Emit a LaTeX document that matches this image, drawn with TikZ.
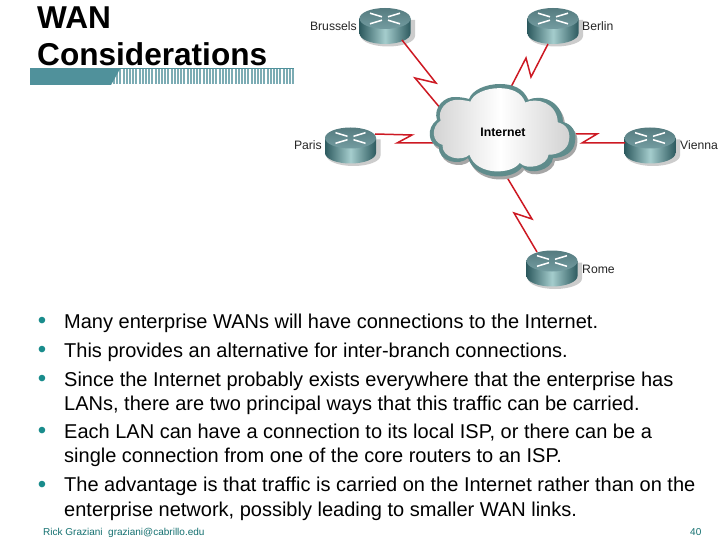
\documentclass[tikz,border=0pt]{standalone}
\usepackage{fontspec}
\setmainfont{Liberation Sans}
\definecolor{barteal}{RGB}{80,145,155}
\definecolor{routertop}{RGB}{100,145,150}
\definecolor{routerdark}{RGB}{45,90,95}
\definecolor{routerlight}{RGB}{165,205,205}
\definecolor{cloudedge}{RGB}{95,140,140}
\definecolor{linkred}{RGB}{205,25,35}
\definecolor{noteteal}{RGB}{25,140,140}
\tikzset{
 x=1pt,y=-1pt,
 linkline/.style={draw=linkred,line width=1.5pt,line join=miter},
 routerlabel/.style={font=\fontsize{12.2}{13}\selectfont,inner sep=0pt,text=black!85},
 bodytext/.style={font=\fontsize{20}{22}\selectfont,anchor=base west,inner sep=0pt},
 bulletmark/.style={font=\fontsize{24}{24}\selectfont,anchor=base,inner sep=0pt,text=noteteal},
 titletext/.style={font=\fontsize{31.6}{33}\selectfont\bfseries,anchor=base west,inner sep=0pt},
 foottext/.style={font=\fontsize{10}{11}\selectfont,anchor=base west,inner sep=0pt,text=noteteal!80!black},
 anchorpt/.style={inner sep=0pt,minimum size=0pt,outer sep=0pt},
 pics/routericon/.style={code={
   \fill[black!20] (-24,1.5) -- (-24,17.5) arc[start angle=180,end angle=0,x radius=27,y radius=10.5] -- (30,1.5) -- cycle;
   \path[left color=routerdark,right color=routerdark,middle color=routerlight]
     (-25.5,0) -- (-25.5,15) arc[start angle=180,end angle=0,x radius=25.5,y radius=10.5] -- (25.5,0) -- cycle;
   \shade[top color=routertop!85!black,bottom color=routertop!90!white] (0,0) ellipse[x radius=25.5,y radius=10.5];
   \draw[white,line width=1.5pt] (-15,-5.3) -- (-3,-1.7) (15,5.3) -- (3,1.7) (15,-5.3) -- (3,-1.7) (-15,5.3) -- (-3,1.7);
 }}
}
\begin{document}
\begin{tikzpicture}
\useasboundingbox (0,0) rectangle (720,540);
\fill[white] (0,0) rectangle (720,540);
% title
\node[titletext] (t1) at (37,29) {WAN};
\node[titletext] (t2) at (37,66) {Considerations};
% bar
\foreach \xx in {113,116.2,...,292.5}{\fill[barteal!75] (\xx,69) rectangle ++(2,15.5);}
\fill[barteal] (30,67.7) rectangle (294,69.5);
\fill[barteal] (30,69) -- (120,69) -- (111,85) -- (30,85) -- cycle;
% routers
\pic at (385,18.5) {routericon};
\pic at (553,18.5) {routericon};
\pic at (350.5,138) {routericon};
\pic at (650,138) {routericon};
\pic at (552,261) {routericon};
\node[anchorpt] (brussels) at (402,40) {};
\node[anchorpt] (berlin) at (548,44) {};
\node[anchorpt] (paris) at (375,134) {};
\node[anchorpt] (vienna) at (625,143) {};
\node[anchorpt] (rome) at (537,252) {};
\node[anchorpt] (cnw) at (441,109) {};
\node[anchorpt] (cne) at (511,87) {};
\node[anchorpt] (cw) at (433,143) {};
\node[anchorpt] (ce) at (572,134) {};
\node[anchorpt] (cs) at (505,174) {};
% links
\coordinate (b1) at (436,83); \coordinate (b2) at (415,78);
\draw[linkline] (brussels) -- (b1) -- (b2) -- (cnw);
\coordinate (be1) at (531,77); \coordinate (be2) at (526,58);
\draw[linkline] (berlin) -- (be1) -- (be2) -- (cne);
\coordinate (p1) at (412,135); \coordinate (p2) at (397,143);
\draw[linkline] (paris) -- (p1) -- (p2) -- (cw);
\coordinate (v1) at (597,134); \coordinate (v2) at (582,143);
\draw[linkline] (ce) -- (v1) -- (v2) -- (vienna);
\coordinate (r1) at (532,219); \coordinate (r2) at (514,213);
\draw[linkline] (cs) -- (r1) -- (r2) -- (rome);
% cloud
\def\cloudpath{(437,120) .. controls (433,108) and (444,96) .. (456,97)
 .. controls (460,97) and (466,98) .. (469,99)
 .. controls (472,90) and (486,84) .. (500,84)
 .. controls (512,84) and (524,88) .. (528,100)
 .. controls (540,94) and (562,100) .. (563,122)
 .. controls (572,124) and (577,132) .. (575,142)
 .. controls (574,152) and (564,158) .. (553,158)
 .. controls (552,170) and (530,176) .. (522,167)
 .. controls (514,180) and (476,182) .. (468,158)
 .. controls (460,166) and (438,162) .. (439,147)
 .. controls (428,144) and (426,128) .. (437,120) -- cycle}
\fill[black!35,shift={(2,3)}] \cloudpath;
\fill[cloudedge] \cloudpath;
\begin{scope}[shift={(502,130)},xscale=.93,yscale=.9,shift={(-503,-130.5)}]
\shade[left color=black!18,right color=black!18,middle color=white] \cloudpath;
\end{scope}
\node[font=\fontsize{12.3}{13}\selectfont\bfseries,inner sep=0pt] (internet) at (503,132.5) {Internet};
% labels
\node[routerlabel,anchor=base east] (lb) at (357,31) {Brussels};
\node[routerlabel,anchor=base west] (lbe) at (582,31) {Berlin};
\node[routerlabel,anchor=base east] (lp) at (322,150) {Paris};
\node[routerlabel,anchor=base west] (lv) at (680,150) {Vienna};
\node[routerlabel,anchor=base west] (lr) at (582,273) {Rome};
% bullets
\foreach \yy in {328,357,386,438,492}{\node[bulletmark] at (42,\yy) {•};}
\node[bodytext] (l1) at (64,328) {Many enterprise WANs will have connections to the Internet.};
\node[bodytext] (l2) at (64,357) {This provides an alternative for inter-branch connections.};
\node[bodytext] (l3) at (64,386) {Since the Internet probably exists everywhere that the enterprise has};
\node[bodytext] (l4) at (64,410) {LANs, there are two principal ways that this traffic can be carried.};
\node[bodytext] (l5) at (64,438) {Each LAN can have a connection to its local ISP, or there can be a};
\node[bodytext] (l6) at (64,462) {single connection from one of the core routers to an ISP.};
\node[bodytext] (l7) at (64,491) {The advantage is that traffic is carried on the Internet rather than on the};
\node[bodytext] (l8) at (64,516) {enterprise network, possibly leading to smaller WAN links.};
% footer
\node[foottext] (f1) at (43,535) {Rick Graziani\ \ graziani@cabrillo.edu};
\node[foottext] (f2) at (690,535) {40};
\end{tikzpicture}
\end{document}
